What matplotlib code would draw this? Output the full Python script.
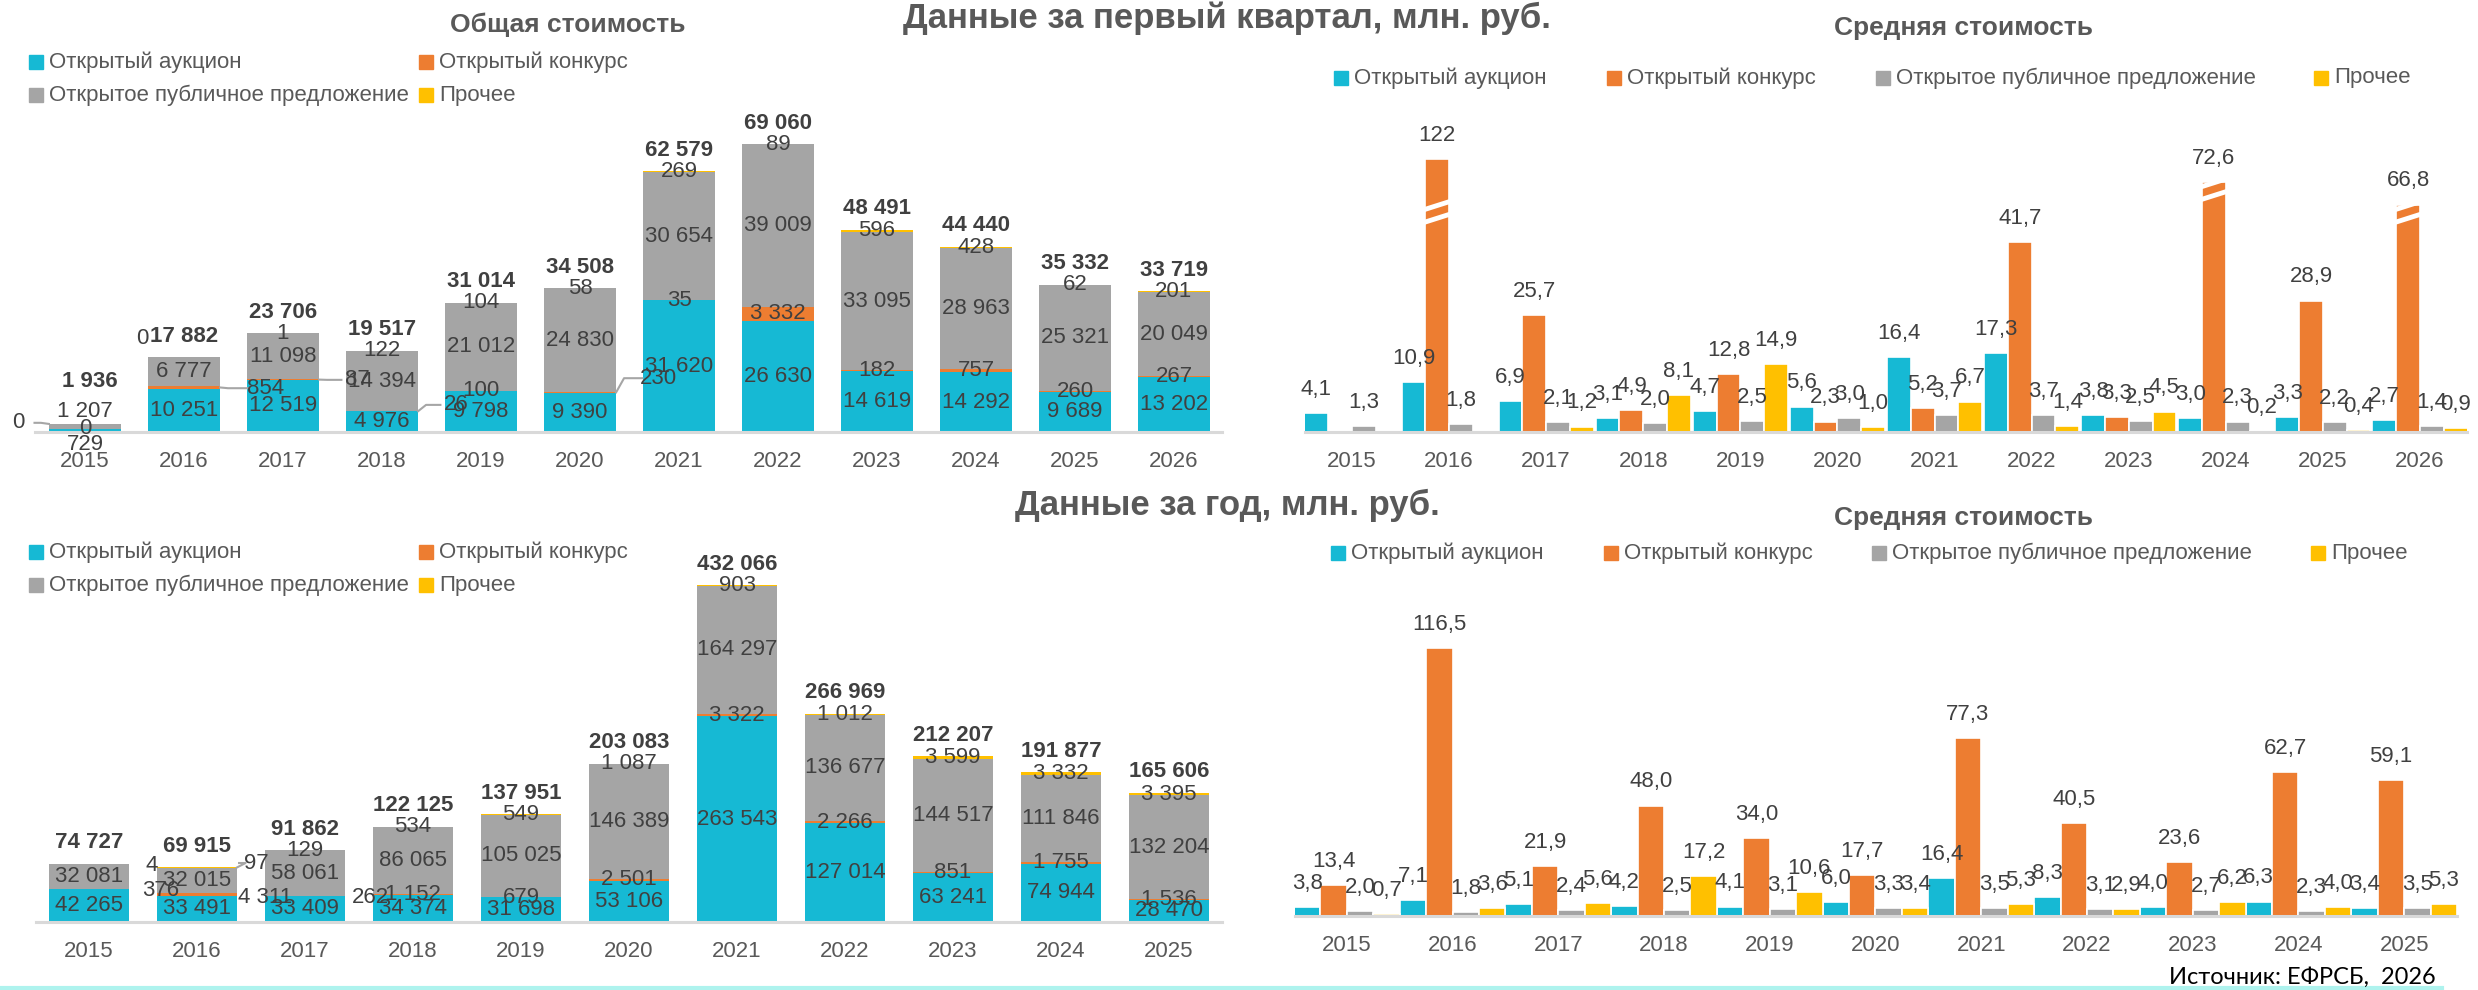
import numpy as np
import matplotlib
matplotlib.use("Agg")
import matplotlib.pyplot as plt
from matplotlib import font_manager
from matplotlib.patches import Rectangle
from matplotlib.lines import Line2D

# ---------------- data ----------------
series_names = ["Открытый аукцион", "Открытый конкурс",
                "Открытое публичное предложение", "Прочее"]

years_q1 = ["2015", "2016", "2017", "2018", "2019", "2020",
            "2021", "2022", "2023", "2024", "2025", "2026"]
q1_auction = [729, 10251, 12519, 4976, 9798, 9390, 31620, 26630, 14619, 14292, 9689, 13202]
q1_konkurs = [0, 854, 87, 26, 100, 230, 35, 3332, 182, 757, 260, 267]
q1_public = [1207, 6777, 11098, 14394, 21012, 24830, 30654, 39009, 33095, 28963, 25321, 20049]
q1_other = [0, 0, 1, 122, 104, 58, 269, 89, 596, 428, 62, 201]
q1_total = [1936, 17882, 23706, 19517, 31014, 34508, 62579, 69060, 48491, 44440, 35332, 33719]

q1_avg_auction = [4.1, 10.9, 6.9, 3.1, 4.7, 5.6, 16.4, 17.3, 3.8, 3.0, 3.3, 2.7]
q1_avg_konkurs = [0, 122, 25.7, 4.9, 12.8, 2.3, 5.2, 41.7, 3.3, 72.6, 28.9, 66.8]
q1_avg_public = [1.3, 1.8, 2.1, 2.0, 2.5, 3.0, 3.7, 3.7, 2.5, 2.3, 2.2, 1.4]
q1_avg_other = [0, 0, 1.2, 8.1, 14.9, 1.0, 6.7, 1.4, 4.5, 0.2, 0.4, 0.9]

years_y = ["2015", "2016", "2017", "2018", "2019", "2020",
           "2021", "2022", "2023", "2024", "2025"]
y_auction = [42265, 33491, 33409, 34374, 31698, 53106, 263543, 127014, 63241, 74944, 28470]
y_konkurs = [376, 4311, 262, 1152, 679, 2501, 3322, 2266, 851, 1755, 1536]
y_public = [32081, 32015, 58061, 86065, 105025, 146389, 164297, 136677, 144517, 111846, 132204]
y_other = [4, 97, 129, 534, 549, 1087, 903, 1012, 3599, 3332, 3395]
y_total = [74727, 69915, 91862, 122125, 137951, 203083, 432066, 266969, 212207, 191877, 165606]

y_avg_auction = [3.8, 7.1, 5.1, 4.2, 4.1, 6.0, 16.4, 8.3, 4.0, 6.3, 3.4]
y_avg_konkurs = [13.4, 116.5, 21.9, 48.0, 34.0, 17.7, 77.3, 40.5, 23.6, 62.7, 59.1]
y_avg_public = [2.0, 1.8, 2.4, 2.5, 3.1, 3.3, 3.5, 3.1, 2.7, 2.3, 3.5]
y_avg_other = [0.7, 3.6, 5.6, 17.2, 10.6, 3.4, 5.3, 2.9, 6.2, 4.0, 5.3]

colors = ["#16B9D4", "#ED7D31", "#A5A5A5", "#FFC000"]

# ---------------- layout / style ----------------
W, H = 2478, 990
names = {f.name for f in font_manager.fontManager.ttflist}
NARROW = "Liberation Sans Narrow" if "Liberation Sans Narrow" in names else "Liberation Sans"
plt.rcParams["font.family"] = [NARROW, "DejaVu Sans"]
TXT = "#404040"
GREY = "#595959"
FS = 16      # data labels
FS_TICK = 16
FS_LEG = 16

# manually moved labels (series, year) -> (x, y, leader?)
q1_moves = {(0, 0): (0, -3100, False), (2, 0): (0, 4800, False),
            (1, 0): (0, 900, False), (3, 0): (-0.67, 2200, True),
            (3, 1): (0.58, 22500, False),
            (1, 1): (1.82, 10500, True), (1, 2): (2.75, 12500, True),
            (1, 3): (3.75, 6500, True), (1, 5): (5.79, 12900, True)}
q1_total_moves = {0: (0.05, 12000)}
y_moves = {(3, 0): (0.58, 73000, False), (1, 0): (0.66, 41000, False),
           (3, 1): (1.55, 75600, True), (1, 1): (1.63, 32000, False),
           (1, 2): (2.61, 32000, False)}
# broken bars in the Q1 average chart: year index -> (shown height, break level)
q1_avg_broken = {1: (60, 47), 9: (55, 52), 11: (50, 47)}


def fmt_int(v):
    return f"{int(v):,}".replace(",", " ")


def fmt_dec(v):
    if isinstance(v, int):
        return str(v)
    return f"{v:.1f}".replace(".", ",")


def style_axis(ax, labels, xlim, ylim):
    ax.set_xlim(*xlim)
    ax.set_ylim(*ylim)
    for s in ["left", "right", "top"]:
        ax.spines[s].set_visible(False)
    ax.spines["bottom"].set_color("#D9D9D9")
    ax.spines["bottom"].set_linewidth(2.2)
    ax.set_yticks([])
    ax.set_xticks(range(len(labels)))
    ax.set_xticklabels(labels, fontsize=FS_TICK, color=GREY)
    ax.tick_params(axis="x", length=0, pad=14)
    ax.patch.set_alpha(0)


def stacked(ax, series, totals, width, moves, total_moves):
    n = len(totals)
    x = np.arange(n)
    bottom = np.zeros(n)
    for k, vals in enumerate(series):
        vals = np.array(vals, float)
        ax.bar(x, vals, width, bottom=bottom, color=colors[k], linewidth=0, zorder=2)
        for i in range(n):
            yc = bottom[i] + vals[i] / 2
            tx, ty = x[i], yc
            if (k, i) in moves:
                tx, ty, leader = moves[(k, i)]
                if leader:
                    sgn = 1 if tx > i else -1
                    x0 = i + sgn * width / 2
                    ax.plot([x0, x0 + sgn * 0.08, tx - sgn * 0.16], [yc, ty, ty],
                            color="#A6A6A6", lw=1.5, zorder=4, clip_on=False)
            ax.text(tx, ty, fmt_int(vals[i]), ha="center", va="center",
                    fontsize=FS, color=TXT, zorder=5)
        bottom += vals
    for i, t in enumerate(totals):
        if i in total_moves:
            ax.text(*total_moves[i], fmt_int(t), ha="center", va="center",
                    fontsize=FS, fontweight="bold", color=TXT, zorder=5)
        else:
            ax.annotate(fmt_int(t), (i, bottom[i]), xytext=(0, 15),
                        textcoords="offset points", ha="center", va="center",
                        fontsize=FS, fontweight="bold", color=TXT, zorder=5)


def grouped(ax, series, width, broken=None):
    broken = broken or {}
    n = len(series[0])
    x = np.arange(n)
    offs = (np.arange(4) - 1.5) * width
    for k, vals in enumerate(series):
        shown = [broken[i][0] if (k == 1 and i in broken) else v for i, v in enumerate(vals)]
        ax.bar(x + offs[k], shown, width, color=colors[k], edgecolor="white",
               linewidth=1.2, zorder=2)
        for i, v in enumerate(vals):
            if v == 0:
                continue
            ax.annotate(fmt_dec(v), (x[i] + offs[k], shown[i]), xytext=(0, 17),
                        textcoords="offset points", ha="center", va="center",
                        fontsize=FS, color=TXT, zorder=5)
    for i, (top, brk) in broken.items():
        xc = x[i] + offs[1]
        for d in (0, 2.8):
            ax.plot([xc - width / 2 - 0.01, xc + width / 2 + 0.01],
                    [brk + d - 0.9, brk + d + 0.9], color="white", lw=3.5,
                    zorder=3, solid_capstyle="butt")


def legend_row(fig, items, y):
    for xp, label, col in items:
        fig.patches.append(Rectangle((xp / W, 1 - (y + 7) / H), 14 / W, 14 / H,
                                     transform=fig.transFigure, color=col))
        fig.text((xp + 20) / W, 1 - y / H, label, ha="left", va="center",
                 fontsize=FS_LEG, color=GREY)


fig = plt.figure(figsize=(W / 100, H / 100), dpi=100)

# ---- top-left: Q1 totals ----
ax_tl = fig.add_axes([35 / W, 1 - 432 / H, 1187 / W, 317 / H])
stacked(ax_tl, [q1_auction, q1_konkurs, q1_public, q1_other], q1_total, 0.73,
        q1_moves, q1_total_moves)
style_axis(ax_tl, years_q1, (-0.505, 11.485), (0, 76000))

# ---- top-right: Q1 averages ----
ax_tr = fig.add_axes([1305 / W, 1 - 432 / H, 1162 / W, 317 / H])
grouped(ax_tr, [q1_avg_auction, q1_avg_konkurs, q1_avg_public, q1_avg_other], 0.245,
        q1_avg_broken)
style_axis(ax_tr, years_q1, (-0.484, 11.484), (0, 69.7))

# ---- bottom-left: annual totals ----
ax_bl = fig.add_axes([36 / W, 1 - 922 / H, 1186 / W, 362 / H])
stacked(ax_bl, [y_auction, y_konkurs, y_public, y_other], y_total, 0.74, y_moves, {})
style_axis(ax_bl, years_y, (-0.49, 10.49), (0, 464000))

# ---- bottom-right: annual averages ----
ax_br = fig.add_axes([1295 / W, 1 - 916 / H, 1162 / W, 316 / H])
grouped(ax_br, [y_avg_auction, y_avg_konkurs, y_avg_public, y_avg_other], 0.25)
style_axis(ax_br, years_y, (-0.49, 10.5), (0, 137.4))

# ---- titles ----
fig.text(1227 / W, 1 - 18 / H, "Данные за первый квартал, млн. руб.", ha="center",
         va="center", fontsize=25, fontweight="bold", color=GREY)
fig.text(1227 / W, 1 - 505 / H, "Данные за год, млн. руб.", ha="center",
         va="center", fontsize=25, fontweight="bold", color=GREY)
fig.text(568 / W, 1 - 25 / H, "Общая стоимость", ha="center", va="center",
         fontsize=19, fontweight="bold", color=GREY)
fig.text(1963 / W, 1 - 28 / H, "Средняя стоимость", ha="center", va="center",
         fontsize=19, fontweight="bold", color=GREY)
fig.text(1963 / W, 1 - 518 / H, "Средняя стоимость", ha="center", va="center",
         fontsize=19, fontweight="bold", color=GREY)

# ---- legends ----
for y0 in (62, 552):
    legend_row(fig, [(29, series_names[0], colors[0]), (419, series_names[1], colors[1])], y0)
    legend_row(fig, [(29, series_names[2], colors[2]), (419, series_names[3], colors[3])], y0 + 33)
legend_row(fig, list(zip([1334, 1607, 1876, 2314], series_names, colors)), 78)
legend_row(fig, list(zip([1331, 1604, 1872, 2311], series_names, colors)), 553)

# ---- source & bottom line ----
fig.text(2169 / W, 1 - 977 / H, "Источник: ЕФРСБ,  2026", ha="left", va="center",
         fontsize=17, color="black", family=["Lato", "DejaVu Sans"])
fig.add_artist(Line2D([0, 2442 / W], [2 / H, 2 / H], transform=fig.transFigure,
                      color="#AEF3EE", lw=3))

fig.savefig("out.png", dpi=100)
